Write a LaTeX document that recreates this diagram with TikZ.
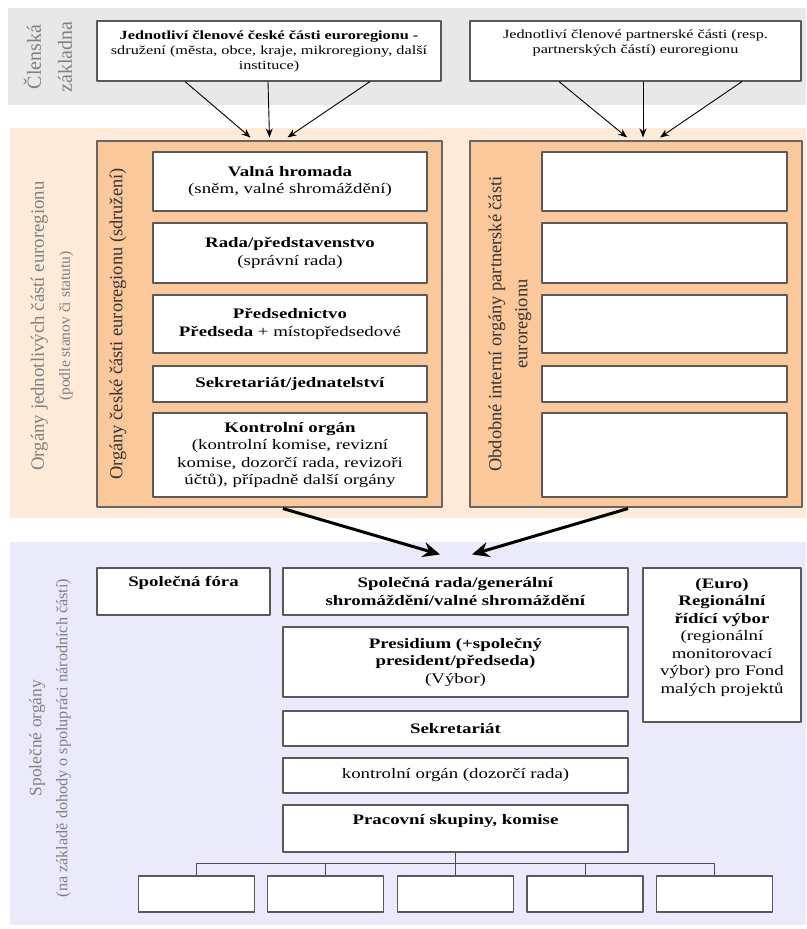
\documentclass[tikz,border=0pt]{standalone}
\usepackage{fontspec}
\setmainfont{Liberation Serif}[FakeStretch=1.3]
\newfontfamily\sidefont{Liberation Serif}
\usetikzlibrary{arrows.meta,calc}
\definecolor{greyband}{RGB}{232,232,232}
\definecolor{peach}{RGB}{253,234,216}
\definecolor{orgfill}{RGB}{250,200,154}
\definecolor{lavender}{RGB}{234,234,250}
\newcommand\cellfont{\fontsize{14.5}{17.5}\selectfont}
\newcommand\memberfont{\fontsize{12.5}{15}\selectfont}
\begin{document}
\begin{tikzpicture}[x=1pt, y=-1pt, line join=round,
	cell/.style={draw=black!65, line width=1.1pt, fill=white, align=center, inner sep=2pt, font=\cellfont},
	org/.style={draw=black!60, line width=1.1pt, fill=orgfill},
	side/.style={rotate=90, align=center, text=black!50},
	feed/.style={-{Stealth[length=9pt,width=7pt]}, line width=0.9pt},
	merge/.style={-{Stealth[length=17pt,width=15pt]}, line width=3pt},
	tree/.style={line width=1pt, draw=black!70}]
	%%%%%%%%%%%%%%%%%%%%%%%%%%%%%%%%%
	\useasboundingbox (0,0) rectangle (806,929);
	\fill[greyband] (8,8) rectangle (806,105);
	\fill[peach] (10,128) rectangle (806,518);
	\fill[lavender] (10,542) rectangle (806,925);
	%%%%%%%%%%%%%%%%%%%%%%%%%%%%%%%%%
	\node[side, font=\sidefont\fontsize{20}{31}\selectfont] (clen) at (48,57) {Členská\\základna};
	\node[side, font=\sidefont\fontsize{18.8}{26}\selectfont] (orglab) at (52,326)
		{Orgány jednotlivých částí euroregionu\\{\fontsize{15.5}{26}\selectfont(podle stanov či statutu)}};
	\node[side, font=\sidefont\fontsize{17.4}{26}\selectfont] (spollab) at (50,738)
		{Společné orgány\\{\fontsize{16.2}{26}\selectfont(na základě dohody o spolupráci národních částí)}};
	%%%%%%%%%%%%%%%%%%%%%%%%%%%%%%%%%
	\node[cell, font=\memberfont, minimum width=344pt, minimum height=60pt] (topL) at (269,51)
		{\textbf{Jednotliví členové české části euroregionu -}\\sdružení (města, obce, kraje, mikroregiony, další\\instituce)};
	\node[cell, font=\memberfont, minimum width=331pt, minimum height=60pt, text depth=18pt] (topR) at (635.5,51)
		{Jednotliví členové partnerské části (resp.\\partnerských částí) euroregionu};
	%%%%%%%%%%%%%%%%%%%%%%%%%%%%%%%%%
	\node[org, minimum width=345pt, minimum height=366pt] (innerL) at (269.5,324) {};
	\node[org, minimum width=332pt, minimum height=366pt] (innerR) at (636,324) {};
	\node[side, text=black!80, font=\sidefont\fontsize{18.4}{22}\selectfont] (czlab) at (118,324)
		{Orgány české části euroregionu (sdružení)};
	\node[side, text=black!80, font=\sidefont\fontsize{18.4}{26}\selectfont] (ptlab) at (510,324)
		{Obdobné interní orgány partnerské části\\euroregionu};
	\node[cell, minimum width=274pt, minimum height=59pt] (valna) at (290,181.5)
		{\textbf{Valná hromada}\\(sněm, valné shromáždění)};
	\node[cell, minimum width=274pt, minimum height=60pt] (rada) at (290,253)
		{\textbf{Rada/představenstvo}\\(správní rada)};
	\node[cell, minimum width=274pt, minimum height=58pt] (predsed) at (290,324)
		{\textbf{Předsednictvo}\\\textbf{Předseda} + místopředsedové};
	\node[cell, minimum width=274pt, minimum height=36pt] (sekrcz) at (290,384)
		{\textbf{Sekretariát/jednatelství}};
	\node[cell, minimum width=274pt, minimum height=84pt] (kontrcz) at (290,455)
		{\textbf{Kontrolní orgán}\\(kontrolní komise, revizní\\komise, dozorčí rada, revizoři\\účtů), případně další orgány};
	\foreach \y/\h [count=\i] in {181.5/59, 253/60, 324/58, 384/36, 455/84}
		\node[cell, minimum width=245pt, minimum height=\h pt] (pt\i) at (664.5,\y) {};
	%%%%%%%%%%%%%%%%%%%%%%%%%%%%%%%%%
	\node[cell, minimum width=173pt, minimum height=47pt, text depth=20pt] (fora) at (183.5,591.5)
		{\textbf{Společná fóra}};
	\node[cell, minimum width=345pt, minimum height=47pt] (spolrada) at (455.5,591.5)
		{\textbf{Společná rada/generální}\\\textbf{shromáždění/valné shromáždění}};
	\node[cell, minimum width=345pt, minimum height=70pt] (presid) at (455.5,662)
		{\textbf{Presidium (+společný}\\\textbf{president/předseda)}\\(Výbor)};
	\node[cell, minimum width=345pt, minimum height=35pt] (sekr) at (455.5,728.5)
		{\textbf{Sekretariát}};
	\node[cell, minimum width=345pt, minimum height=35pt] (kontr) at (455.5,775.5)
		{kontrolní orgán (dozorčí rada)};
	\node[cell, minimum width=345pt, minimum height=47pt, text depth=18pt] (prac) at (455.5,828.5)
		{\textbf{Pracovní skupiny, komise}};
	\node[cell, minimum width=158pt, minimum height=154pt, text depth=19pt] (euro) at (722,645)
		{\textbf{(Euro)}\\\textbf{Regionální}\\\textbf{řídící výbor}\\(regionální\\monitorovací\\výbor) pro Fond\\malých projektů};
	\foreach \x [count=\i] in {196.5, 325.5, 455.5, 585, 714.5}
		\node[cell, minimum width=116pt, minimum height=36pt] (sub\i) at (\x,894) {};
	%%%%%%%%%%%%%%%%%%%%%%%%%%%%%%%%%
	\coordinate (fork) at (455.5,863);
	\draw[tree] (prac.south) -- (sub3.north);
	\draw[tree] (sub1.north) |- (fork) -| (sub5.north);
	\foreach \i in {2,4}
		\draw[tree] (sub\i.north) -- (sub\i.north |- fork);
	%%%%%%%%%%%%%%%%%%%%%%%%%%%%%%%%%
	\foreach \a/\b in {-84/-19, -1/0, 101/18}
		\draw[feed] ($(topL.south)+(\a,0)$) -- ($(innerL.north)+(\b,-3)$);
	\foreach \a/\b in {-76.5/-9, 7.5/7, 106.5/24}
		\draw[feed] ($(topR.south)+(\a,0)$) -- ($(innerR.north)+(\b,-3)$);
	\draw[merge] ($(innerL.south)+(13.5,1)$) -- ($(spolrada.north)+(-15.5,-13)$);
	\draw[merge] ($(innerR.south)+(-8,1)$) -- ($(spolrada.north)+(16.5,-13)$);
	%%%%%%%%%%%%%%%%%%%%%%%%%%%%%%%%%
\end{tikzpicture}
\end{document}
